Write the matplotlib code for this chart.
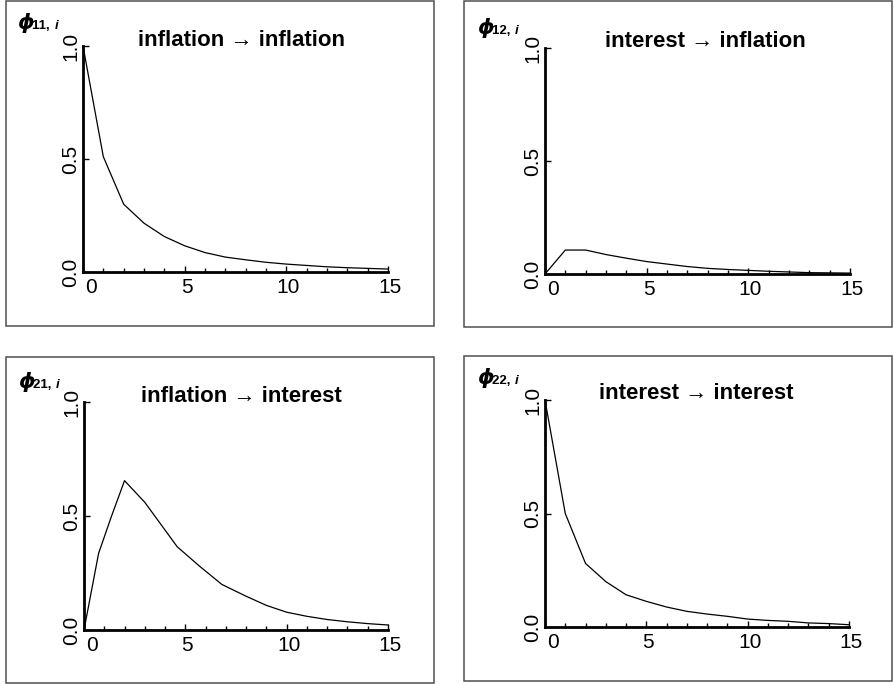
import matplotlib.pyplot as plt
from matplotlib.patches import Rectangle
from matplotlib.transforms import offset_copy

W, H = 894, 685

# impulse responses
horizon = list(range(16))
infl_to_infl = [1.0, 0.51, 0.30, 0.216, 0.157, 0.116, 0.086, 0.066, 0.054,
                0.043, 0.035, 0.029, 0.023, 0.019, 0.016, 0.013]
int_to_infl = [0.0, 0.106, 0.106, 0.086, 0.07, 0.055, 0.044, 0.033, 0.025,
               0.02, 0.016, 0.012, 0.009, 0.006, 0.005, 0.004]
horizon_21 = [0, 0.72, 1.36, 2, 3, 4.6, 5.7, 6.8, 8, 9, 10, 11, 12, 13, 14, 15]
infl_to_int = [0.0, 0.336, 0.50, 0.655, 0.56, 0.365, 0.28, 0.2, 0.148,
               0.108, 0.078, 0.06, 0.046, 0.036, 0.028, 0.022]
int_to_int = [1.0, 0.50, 0.28, 0.20, 0.142, 0.113, 0.088, 0.069, 0.057,
              0.047, 0.035, 0.029, 0.025, 0.018, 0.015, 0.01]

titles = ['inflation \u2192 inflation', 'interest \u2192 inflation',
          'inflation \u2192 interest', 'interest \u2192 interest']
subs = ['11, ', '12, ', '21, ', '22, ']
xticks = [0, 5, 10, 15]
yticks = [0.0, 0.5, 1.0]

# layout in pixels: axes box (x0, top, x1, bottom), frame, title centre, phi position
axes_px = [(83, 46, 388, 272), (545, 48, 850, 274),
           (84, 402, 388, 630), (545, 400, 849, 627)]
frames_px = [(6, 1, 434, 326), (464, 1, 892, 327),
             (6, 357, 434, 683), (464, 356, 892, 681)]
title_px = [(242, 46), (705, 47), (241, 402), (696, 399)]
phi_px = [(17, 23), (477, 28), (18, 382), (477, 378)]

series = [(horizon, infl_to_infl), (horizon, int_to_infl),
          (horizon_21, infl_to_int), (horizon, int_to_int)]

plt.rcParams['font.family'] = ['Liberation Sans', 'DejaVu Sans']

fig = plt.figure(figsize=(W / 100, H / 100), dpi=100)


def fx(x):
    return x / W


def fy(y):
    return 1 - y / H


for i in range(4):
    x0, top, x1, bot = axes_px[i]
    ax = fig.add_axes([fx(x0), fy(bot), (x1 - x0) / W, (bot - top) / H])
    xs, ys = series[i]
    ax.plot(xs, ys, color='black', lw=0.9, clip_on=False)
    ax.set_xlim(0, 15)
    ax.set_ylim(0, 1)
    for s in ['top', 'right']:
        ax.spines[s].set_visible(False)
    for s in ['left', 'bottom']:
        ax.spines[s].set_linewidth(2)
    ax.set_xticks(xticks)
    ax.set_xticks(range(16), minor=True)
    ax.set_yticks(yticks)
    ax.set_yticklabels(['0.0', '0.5', '1.0'], rotation=90, va='center')
    ax.tick_params(axis='both', which='major', direction='in', length=4, width=1,
                   labelsize=15, pad=4)
    ax.tick_params(axis='x', which='minor', direction='in', length=3, width=1)
    ax.tick_params(axis='y', pad=2)
    labels = ax.get_xticklabels()
    for lab in labels:
        lab.set_transform(offset_copy(lab.get_transform(), fig=fig, x=2, y=0, units='dots'))
    labels[0].set_ha('left')

    fig.text(fx(title_px[i][0]), fy(title_px[i][1]), titles[i], ha='center',
             va='baseline', fontsize=16, fontweight='bold')
    px, py = phi_px[i]
    fig.text(fx(px), fy(py), '\u03d5', family='DejaVu Sans', fontsize=15,
             fontweight='bold', style='italic', ha='left', va='center')
    fig.text(fx(px + 15), fy(py + 3), subs[i], fontsize=9.5, fontweight='bold',
             ha='left', va='center')
    fig.text(fx(px + 38), fy(py + 3), 'i', fontsize=9.5, style='italic',
             fontweight='bold', ha='left', va='center')

    fx0, fy0, fx1, fy1 = frames_px[i]
    fig.patches.append(Rectangle((fx(fx0), fy(fy1)), (fx1 - fx0) / W, (fy1 - fy0) / H,
                                 transform=fig.transFigure, fill=False,
                                 edgecolor='#505050', lw=1.1))

fig.savefig('out.png', dpi=100)
